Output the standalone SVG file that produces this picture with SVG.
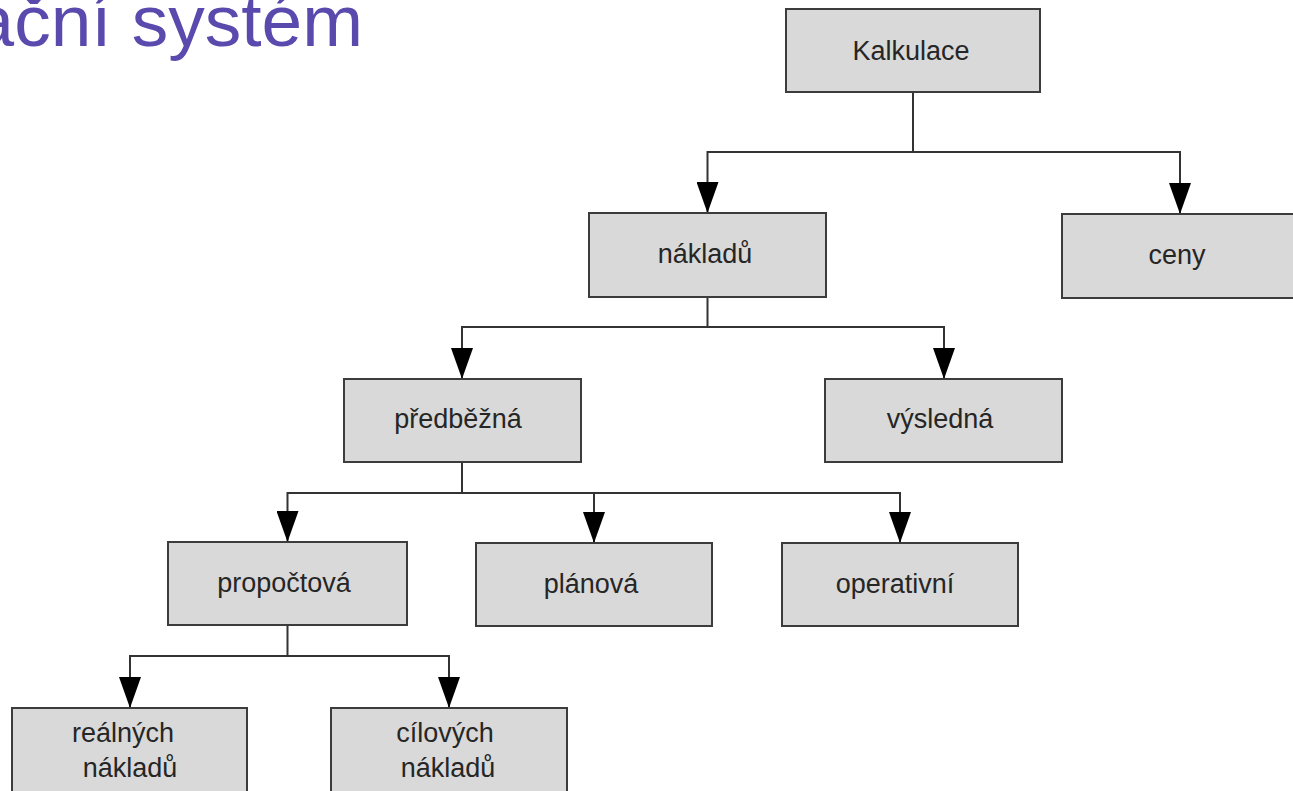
<svg xmlns="http://www.w3.org/2000/svg" width="1293" height="791" viewBox="0 0 1293 791">
  <style>
    .box rect { fill: #d9d9d9; stroke: #3c3c3c; stroke-width: 2; }
    .box text { font-family: "Liberation Sans", Arial, sans-serif; font-size: 27px; fill: #262626; text-anchor: middle; }
    .links path { fill: none; stroke: #333333; stroke-width: 2; }
    .title { font-family: "Liberation Sans", Arial, sans-serif; font-size: 73px; fill: #5a4aae; text-anchor: end; }
  </style>
  <defs>
    <marker id="arrow" markerUnits="userSpaceOnUse" viewBox="0 0 31 22" markerWidth="31" markerHeight="22" refX="31" refY="11" orient="auto">
      <path d="M0,0 L31,11 L0,22 Z" fill="#000000"/>
    </marker>
  </defs>

  <rect width="1293" height="791" fill="#ffffff"/>

  <!-- slide heading, partly outside the visible area -->
  <text class="title" x="363" y="46">Kalkulační systém</text>

  <!-- connectors -->
  <g id="connectors" class="links">
    <path d="M913,92 V152 H707.5 V213" marker-end="url(#arrow)"/>
    <path d="M913,152 H1180 V214" marker-end="url(#arrow)"/>
    <path d="M707.5,297 V327 H462 V379" marker-end="url(#arrow)"/>
    <path d="M707.5,327 H944 V379" marker-end="url(#arrow)"/>
    <path d="M462,462 V493 H287.5 V542" marker-end="url(#arrow)"/>
    <path d="M462,493 H594 V543" marker-end="url(#arrow)"/>
    <path d="M594,493 H900 V543" marker-end="url(#arrow)"/>
    <path d="M287.5,625 V656 H130 V708" marker-end="url(#arrow)"/>
    <path d="M287.5,656 H449 V708" marker-end="url(#arrow)"/>
  </g>

  <g id="kalkulace" class="box">
    <rect x="786" y="9" width="254" height="83"/>
    <text x="911" y="60">Kalkulace</text>
  </g>
  <g id="nakladu" class="box">
    <rect x="589" y="213" width="237" height="84"/>
    <text x="705" y="263">nákladů</text>
  </g>
  <g id="ceny" class="box">
    <rect x="1062" y="214" width="237" height="84"/>
    <text x="1177" y="264">ceny</text>
  </g>
  <g id="predbezna" class="box">
    <rect x="344" y="379" width="237" height="83"/>
    <text x="458" y="428">předběžná</text>
  </g>
  <g id="vysledna" class="box">
    <rect x="825" y="379" width="237" height="83"/>
    <text x="940" y="428">výsledná</text>
  </g>
  <g id="propoctova" class="box">
    <rect x="168" y="542" width="239" height="83"/>
    <text x="284" y="592">propočtová</text>
  </g>
  <g id="planova" class="box">
    <rect x="476" y="543" width="236" height="83"/>
    <text x="591" y="593">plánová</text>
  </g>
  <g id="operativni" class="box">
    <rect x="782" y="543" width="236" height="83"/>
    <text x="895" y="593">operativní</text>
  </g>
  <g id="realnych-nakladu" class="box">
    <rect x="12" y="708" width="235" height="86"/>
    <text x="123" y="742">reálných</text>
    <text x="130" y="777">nákladů</text>
  </g>
  <g id="cilovych-nakladu" class="box">
    <rect x="331" y="708" width="236" height="86"/>
    <text x="445" y="742">cílových</text>
    <text x="448" y="777">nákladů</text>
  </g>
</svg>
